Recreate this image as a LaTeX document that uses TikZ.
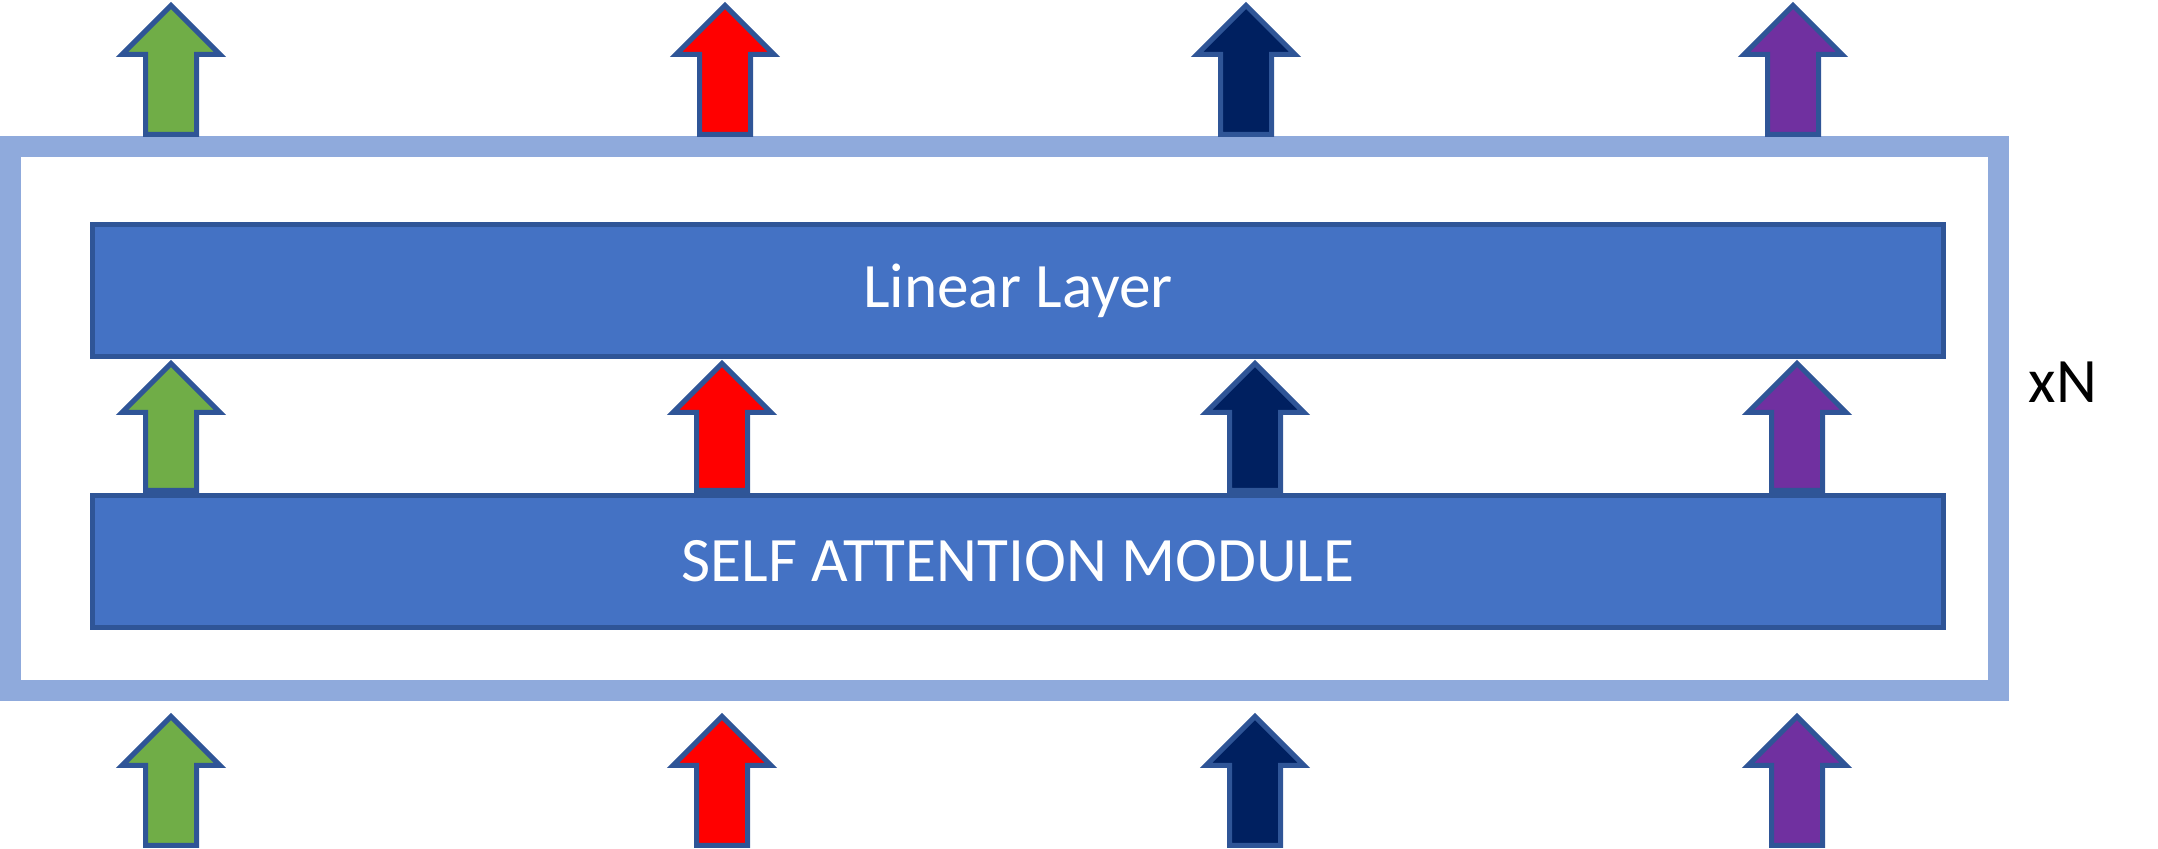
\documentclass[tikz,border=0pt]{standalone}
\usepackage{fontspec}
\setmainfont{Carlito}
\definecolor{boxfill}{HTML}{4472C4}
\definecolor{boxline}{HTML}{2F5597}
\definecolor{framecol}{HTML}{8FAADC}
\definecolor{tokgreen}{HTML}{70AD47}
\definecolor{tokred}{HTML}{FF0000}
\definecolor{toknavy}{HTML}{002060}
\definecolor{tokpurple}{HTML}{7030A0}

\begin{document}
\begin{tikzpicture}[x=0.01cm, y=0.01cm,
  layer/.style={draw=boxline, fill=boxfill, line width=0.05cm,
    minimum width=18.49cm, minimum height=1.32cm, text=white,
    font=\fontsize{18}{22}\selectfont},
  tok/.style={draw=boxline, line width=0.05cm, line join=miter}]
  \useasboundingbox (0,0) rectangle (2158,849);
  % repeated block
  \draw[framecol, line width=0.21cm] (10.5,158.5) rectangle (1998.5,702.5);
  \node[layer] (lin) at (1018,558.5) {Linear Layer};
  \node[layer] (sam) at (1018,287.5) {SELF ATTENTION MODULE};
  \node[font=\fontsize{18}{22}\selectfont] (rep) at (2063,467) {xN};
  % outputs
  \foreach \xa/\col in {171/tokgreen,725/tokred,1246/toknavy,1793/tokpurple}
    \draw[tok, fill=\col] ({\xa-25.5},714.5) -- ({\xa-25.5},794.5) -- ({\xa-49},794.5)
      -- (\xa,843.5) -- ({\xa+49},794.5) -- ({\xa+25.5},794.5) -- ({\xa+25.5},714.5) -- cycle;
  % between the two layers
  \foreach \xa/\col in {171/tokgreen,722/tokred,1255/toknavy,1797/tokpurple}
    \draw[tok, fill=\col] ({\xa-25.5},358.5) -- ({\xa-25.5},436.5) -- ({\xa-49},436.5)
      -- (\xa,485.5) -- ({\xa+49},436.5) -- ({\xa+25.5},436.5) -- ({\xa+25.5},358.5) -- cycle;
  % inputs
  \foreach \xa/\col in {171/tokgreen,722/tokred,1255/toknavy,1797/tokpurple}
    \draw[tok, fill=\col] ({\xa-25.5},3.5) -- ({\xa-25.5},83.5) -- ({\xa-49},83.5)
      -- (\xa,132.5) -- ({\xa+49},83.5) -- ({\xa+25.5},83.5) -- ({\xa+25.5},3.5) -- cycle;
\end{tikzpicture}
\end{document}
